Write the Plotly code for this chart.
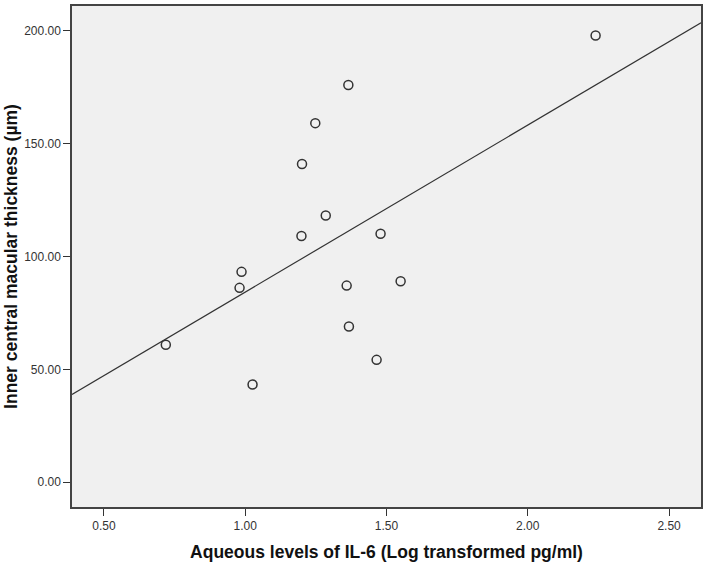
import numpy as np
import plotly.graph_objects as go

il6_log = [0.719, 1.026, 0.980, 0.987, 1.199, 1.479, 1.359, 1.550, 1.367, 1.465,
           1.365, 1.248, 1.201, 1.285, 2.240]
thickness = [60.9, 43.3, 86.1, 93.2, 109.1, 110.1, 87.1, 89.0, 69.0, 54.2,
             176.0, 159.1, 141.0, 118.2, 197.9]

x_ticks = [0.5, 1.0, 1.5, 2.0, 2.5]
y_ticks = [0, 50, 100, 150, 200]
x_range = [0.387, 2.613]
y_range = [-11, 211]

slope, intercept = np.polyfit(il6_log, thickness, 1)
line_x = np.array(x_range)
line_y = slope * line_x + intercept

fig = go.Figure()
fig.add_trace(go.Scatter(x=line_x, y=line_y, mode="lines",
                         line=dict(color="#333333", width=1.2),
                         hoverinfo="skip", showlegend=False))
fig.add_trace(go.Scatter(x=il6_log, y=thickness, mode="markers",
                         marker=dict(symbol="circle-open", size=9, color="#333333",
                                     line=dict(width=1.5, color="#333333")),
                         showlegend=False))

axis_common = dict(ticks="outside", ticklen=7, tickcolor="#333333", showgrid=False,
                   zeroline=False, showline=True, linecolor="#444444", linewidth=1.5,
                   mirror=True, tickfont=dict(size=12, color="#333333",
                                              family="Liberation Sans, Arial, sans-serif"))

fig.update_layout(
    width=707, height=566,
    margin=dict(l=72, r=4, t=4, b=59),
    paper_bgcolor="white", plot_bgcolor="#f0f0f0",
    font=dict(family="Liberation Sans, Arial, sans-serif", color="#222222"),
    xaxis=dict(range=x_range, tickvals=x_ticks, tickformat=".2f", **axis_common,
               title=dict(text="<b>Aqueous levels of IL-6 (Log transformed pg/ml)</b>",
                          font=dict(size=17.5, color="#111111"), standoff=14)),
    yaxis=dict(range=y_range, tickvals=y_ticks, tickformat=".2f", **axis_common,
               title=dict(text="<b>Inner central macular thickness (µm)</b>",
                          font=dict(size=17.5, color="#111111"), standoff=2)),
)

fig.write_html("out.html", config={"displayModeBar": False},
               post_script="document.body.style.margin='0';")
